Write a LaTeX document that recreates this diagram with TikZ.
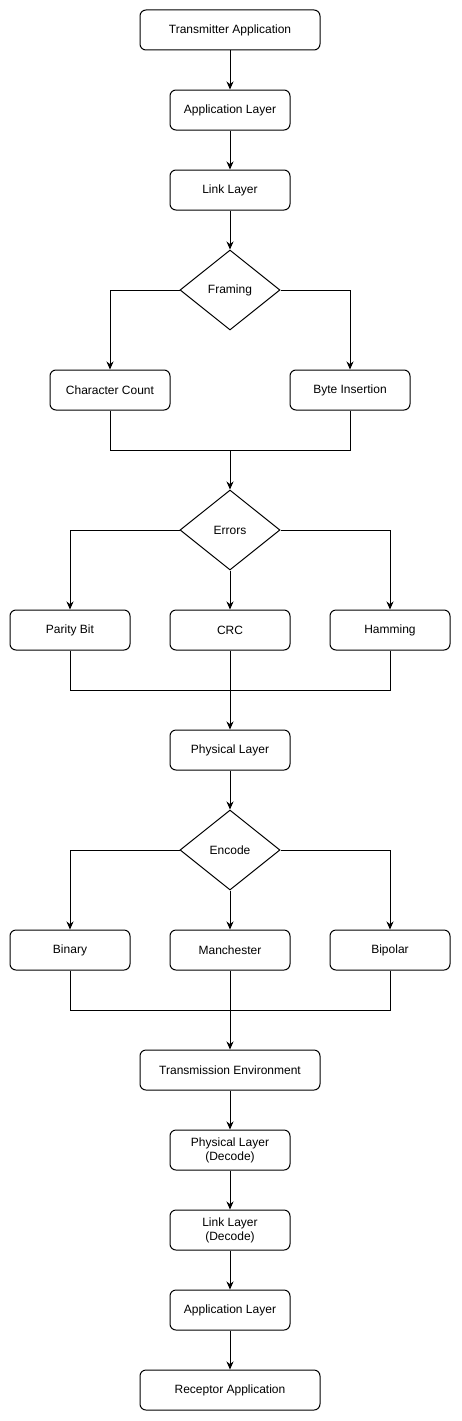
\documentclass[tikz,border=0pt]{standalone}
\usepackage{fontspec}
\setmainfont{Liberation Sans}
\usetikzlibrary{shapes.geometric,arrows.meta}
\begin{document}
\begin{tikzpicture}[x=1pt,y=-1pt,
  every node/.style={font=\fontsize{12}{14}\selectfont, line width=1pt},
  box/.style={draw, rounded corners=6pt, minimum width=120pt, minimum height=40pt, inner sep=0pt, align=center},
  wide/.style={box, minimum width=180pt},
  dia/.style={draw, diamond, aspect=1.25, minimum width=100pt, minimum height=80pt, inner sep=0pt},
  arr/.style={-{Stealth[length=8pt,width=7pt]}, line width=1pt},
  ln/.style={line width=1pt}]
\useasboundingbox (0,0) rectangle (461,1421);
\node[wide] (ta) at (230,30) {Transmitter Application};
\node[box] (al) at (230,110) {Application Layer};
\node[box] (ll) at (230,190) {Link Layer};
\node[dia] (fr) at (230,290) {Framing};
\node[box] (cc) at (110,390) {Character Count};
\node[box] (bi) at (350,390) {Byte Insertion};
\coordinate (m1) at (230,450);
\node[dia] (er) at (230,530) {Errors};
\node[box] (pb) at (70,630) {Parity Bit};
\node[box] (crc) at (230,630) {CRC};
\node[box] (ham) at (390,630) {Hamming};
\coordinate (m2) at (230,690);
\node[box] (pl) at (230,750) {Physical Layer};
\node[dia] (en) at (230,850) {Encode};
\node[box] (bin) at (70,950) {Binary};
\node[box] (man) at (230,950) {Manchester};
\node[box] (bip) at (390,950) {Bipolar};
\coordinate (m3) at (230,1010);
\node[wide] (te) at (230,1070) {Transmission Environment};
\node[box] (pld) at (230,1150) {Physical Layer\\(Decode)};
\node[box] (lld) at (230,1230) {Link Layer\\(Decode)};
\node[box] (al2) at (230,1310) {Application Layer};
\node[wide] (ra) at (230,1390) {Receptor Application};

\draw[arr] (ta) -- (al);
\draw[arr] (al) -- (ll);
\draw[arr] (ll) -- (fr);
\draw[arr] (fr.west) -| (cc.north);
\draw[arr] (fr.east) -| (bi.north);
\draw[ln] (cc.south) |- (m1);
\draw[ln] (bi.south) |- (m1);
\draw[arr] (m1) -- (er.north);
\draw[arr] (er.west) -| (pb.north);
\draw[arr] (er.south) -- (crc.north);
\draw[arr] (er.east) -| (ham.north);
\draw[ln] (pb.south) |- (m2);
\draw[ln] (ham.south) |- (m2);
\draw[arr] (crc.south) -- (pl.north);
\draw[arr] (pl) -- (en);
\draw[arr] (en.west) -| (bin.north);
\draw[arr] (en.south) -- (man.north);
\draw[arr] (en.east) -| (bip.north);
\draw[ln] (bin.south) |- (m3);
\draw[ln] (bip.south) |- (m3);
\draw[arr] (man.south) -- (te.north);
\draw[arr] (te) -- (pld);
\draw[arr] (pld) -- (lld);
\draw[arr] (lld) -- (al2);
\draw[arr] (al2) -- (ra);
\end{tikzpicture}
\end{document}
